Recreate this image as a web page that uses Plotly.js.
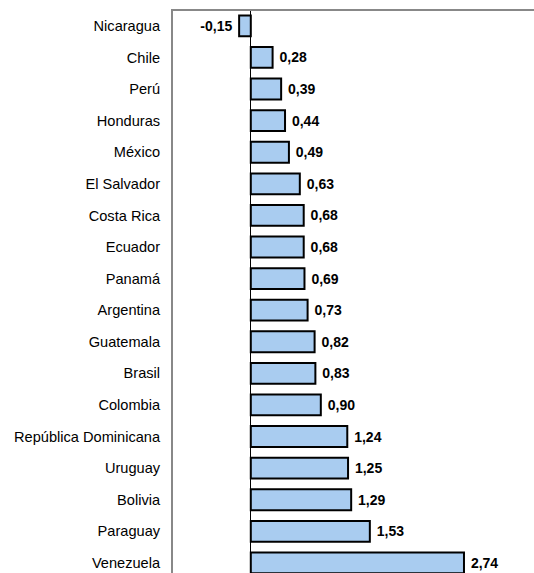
<!DOCTYPE html>
<html><head><meta charset="utf-8">
<script src="https://cdn.plot.ly/plotly-3.0.1.min.js"></script>
<style>html,body{margin:0;padding:0;overflow:hidden;background:#fff}</style>
</head><body><div id="chart" style="width:534px;height:573px"></div>
<script>
const countries = ["Nicaragua","Chile","Perú","Honduras","México","El Salvador","Costa Rica","Ecuador","Panamá","Argentina","Guatemala","Brasil","Colombia","República Dominicana","Uruguay","Bolivia","Paraguay","Venezuela"];
const values = [-0.15,0.28,0.39,0.44,0.49,0.63,0.68,0.68,0.69,0.73,0.82,0.83,0.90,1.24,1.25,1.29,1.53,2.74];
const FONT = '"Liberation Sans Narrow","Arial Narrow","Liberation Sans",Arial,sans-serif';
const trace = {
  type:'bar', orientation:'h', y:countries, x:values,
  marker:{color:'#A9CCF0', line:{color:'#000', width:2}},
  width:0.66,
  text: values.map(v=>{const s=v.toFixed(2).replace('.',','); return v<0 ? s+' ' : ' '+s;}),
  textposition:'outside', cliponaxis:false,
  textfont:{family:FONT, size:14, color:'#000', weight:'bold'},
  hoverinfo:'none'
};
const layout = {
  width:534, height:573,
  margin:{l:173, r:0, t:11, b:0},
  paper_bgcolor:'#fff', plot_bgcolor:'#fff',
  showlegend:false, bargap:0.34,
  font:{family:FONT, size:14, color:'#000'},
  xaxis:{range:[-1.0,3.64], side:'top', showline:true, linecolor:'#888', linewidth:2,
         showgrid:false, showticklabels:false, ticks:'', zeroline:true, zerolinecolor:'#000', zerolinewidth:1, fixedrange:true},
  yaxis:{type:'category', range:[17.32,-0.47], showline:true, linecolor:'#888', linewidth:2,
         showgrid:false, ticks:'outside', ticklen:8, tickcolor:'rgba(0,0,0,0)',
         tickfont:{family:FONT, size:14.6, color:'#000'}, fixedrange:true}
};
Plotly.newPlot('chart',[trace],layout,{displayModeBar:false, staticPlot:true});
</script></body></html>
